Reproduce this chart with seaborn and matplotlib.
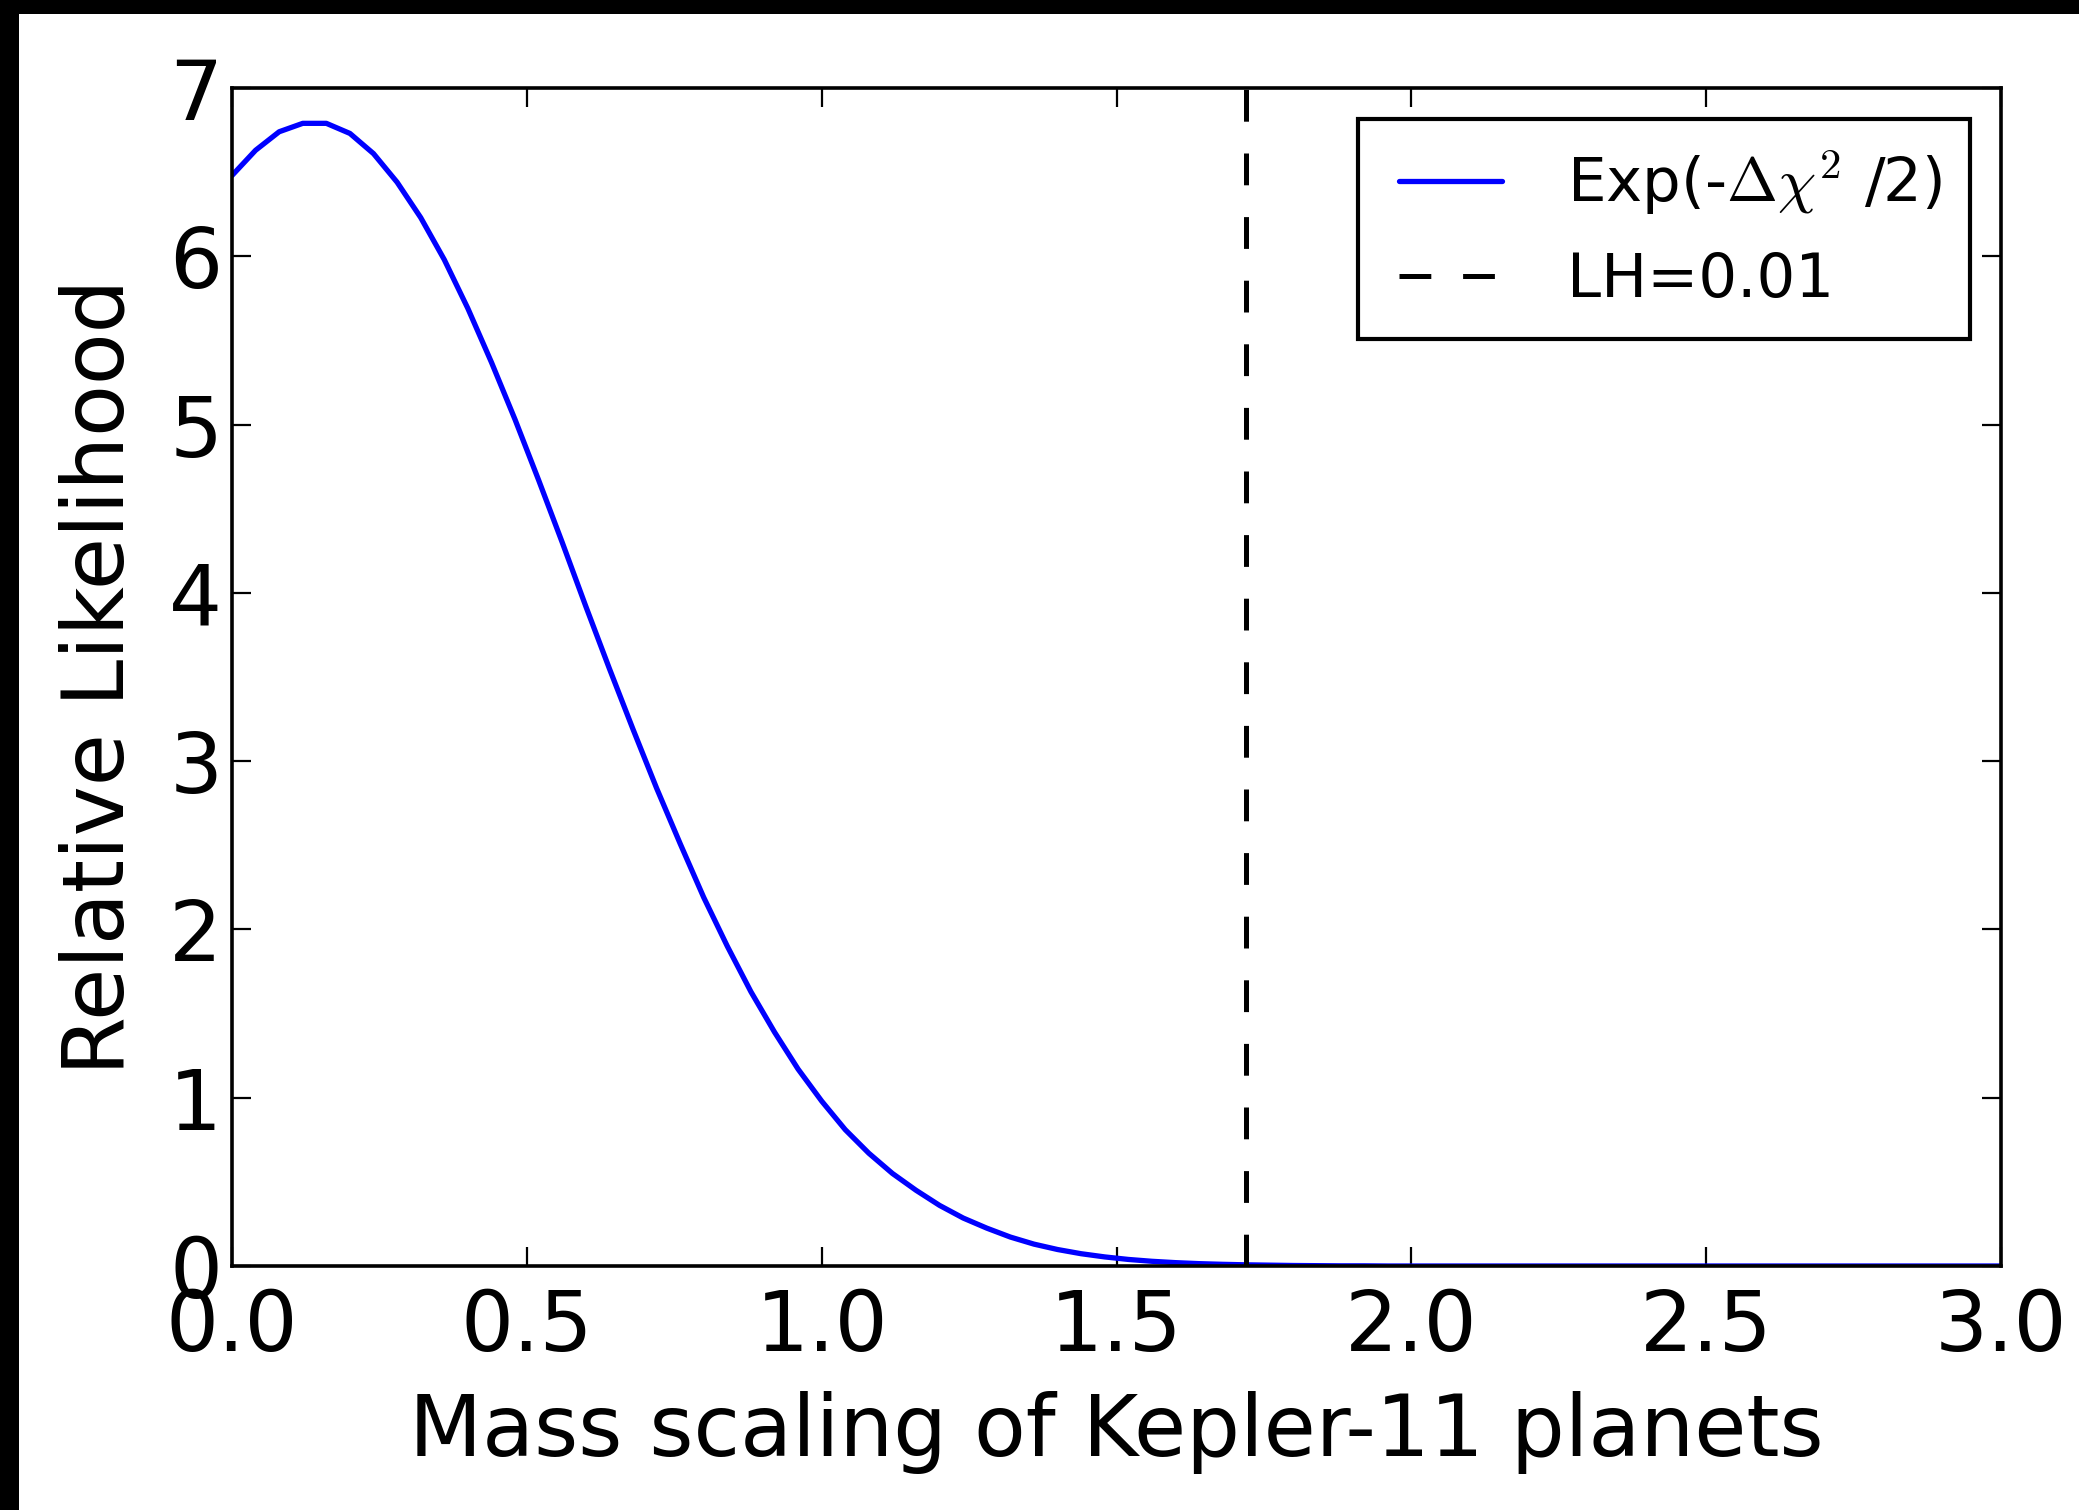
import numpy as np
import matplotlib
matplotlib.use("Agg")
import matplotlib.pyplot as plt
from matplotlib.patches import Rectangle
from matplotlib.lines import Line2D
from matplotlib.legend_handler import HandlerLine2D
import seaborn as sns

mass_scale = [
    0.00, 0.04, 0.08, 0.12, 0.16, 0.20, 0.24, 0.28, 0.32, 0.36,
    0.40, 0.44, 0.48, 0.52, 0.56, 0.60, 0.64, 0.68, 0.72, 0.76,
    0.80, 0.84, 0.88, 0.92, 0.96, 1.00, 1.04, 1.08, 1.12, 1.16,
    1.20, 1.24, 1.28, 1.32, 1.36, 1.40, 1.44, 1.48, 1.52, 1.56,
    1.60, 1.64, 1.68, 1.72, 1.76, 1.80, 1.84, 1.88, 1.92, 1.96,
    2.00, 2.20, 2.40, 2.60, 2.80, 3.00,
]
likelihood = [
    6.48, 6.63, 6.74, 6.79, 6.79, 6.73, 6.61, 6.44, 6.23, 5.98,
    5.69, 5.37, 5.03, 4.67, 4.30, 3.92, 3.55, 3.19, 2.84, 2.51,
    2.19, 1.90, 1.63, 1.39, 1.17, 0.98, 0.81, 0.67, 0.55, 0.45,
    0.36, 0.285, 0.225, 0.172, 0.13, 0.098, 0.073, 0.054, 0.039, 0.028,
    0.020, 0.014, 0.010, 0.007, 0.005, 0.003, 0.002, 0.001, 0.001, 0.0,
    0.0, 0.0, 0.0, 0.0, 0.0, 0.0,
]
lh_cut = 1.72  # mass scaling where LH = 0.01

x_ticks = [0.0, 0.5, 1.0, 1.5, 2.0, 2.5, 3.0]
y_ticks = [0, 1, 2, 3, 4, 5, 6, 7]

sns.set_style("ticks")
plt.rcParams["font.family"] = ["DejaVu Sans"]
plt.rcParams["mathtext.fontset"] = "cm"
plt.rcParams["mathtext.rm"] = "DejaVu Sans"
for key in ["text.color", "axes.labelcolor", "xtick.color", "ytick.color",
            "axes.edgecolor"]:
    plt.rcParams[key] = "black"

W, H = 2079, 1510
fig = plt.figure(figsize=(W / 100, H / 100), dpi=100, facecolor="white")
ax = fig.add_axes([232 / W, 1 - 1266 / H, 1769 / W, 1178 / H])

sns.lineplot(x=mass_scale, y=likelihood, color="#0000ff", linewidth=3.8,
             label=r"Exp(-$\Delta\chi^2$ /2)", ax=ax)
ax.axvline(lh_cut, color="black", linewidth=3.6, dashes=(6.36, 6.36),
           label="LH=0.01")

ax.set_xlim(0, 3)
ax.set_ylim(0, 7)
ax.set_xticks(x_ticks)
ax.set_yticks(y_ticks)
ax.set_xticklabels([f"{t:.1f}" for t in x_ticks])
ax.set_yticklabels([str(t) for t in y_ticks])

for s in ax.spines.values():
    s.set_linewidth(2.6)
    s.set_color("black")
    s.set_visible(True)

ax.tick_params(axis="both", which="major", direction="in", length=14,
               width=1.6, color="black", labelcolor="black", labelsize=60,
               top=True, right=True)
ax.tick_params(axis="x", pad=15)
ax.tick_params(axis="y", pad=7)

ax.set_xlabel("Mass scaling of Kepler-11 planets", fontsize=61, labelpad=17,
              color="black")
ax.set_ylabel("Relative Likelihood", fontsize=61, labelpad=20, color="black")

# extra space left of the legend handles, as in the original
leg = ax.legend(loc="upper right", fontsize=44, frameon=True, fancybox=False,
                handlelength=1.9, handletextpad=1.05, borderpad=0.47,
                labelspacing=0.56, borderaxespad=0.5,
                handler_map={Line2D: HandlerLine2D(xpad=0.2)})
leg.get_frame().set_edgecolor("black")
leg.get_frame().set_linewidth(3)
leg.get_frame().set_alpha(1)
for t in leg.get_texts():
    t.set_color("black")

# black band along the left and top edges of the picture
fig.patches.append(Rectangle((0, 0), 19 / W, 1, transform=fig.transFigure,
                             facecolor="black", edgecolor="none", zorder=10))
fig.patches.append(Rectangle((0, 1 - 14 / H), 1, 14 / H, transform=fig.transFigure,
                             facecolor="black", edgecolor="none", zorder=10))

fig.savefig("out.png", dpi=100, facecolor="white")
